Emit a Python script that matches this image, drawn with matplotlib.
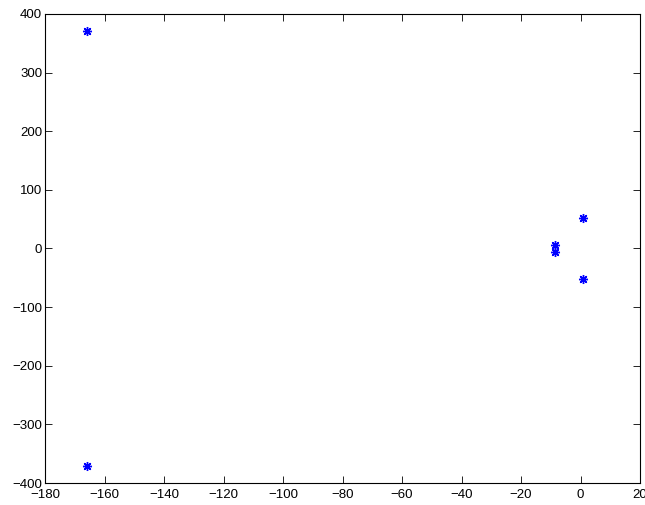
import matplotlib.pyplot as plt
import numpy as np

plt.rcParams['font.family'] = ['Liberation Sans', 'DejaVu Sans']

# Pole locations (real, imaginary)
re_part = [-165.8, -165.8, -8.5, -8.5, 0.8, 0.8]
im_part = [371, -371, 6, -6, 52.5, -52.5]

fig = plt.figure(figsize=(6.45, 5.05), dpi=100)
ax = fig.add_axes([45/645, 1 - 483/505, 595/645, 469/505])

# matlab-style '*' = eight-armed asterisk
ax.plot(re_part, im_part, linestyle='none', marker=(8, 2, 0), color='blue',
        markersize=6.5, markeredgewidth=1.0)

ax.set_xlim(-180, 20)
ax.set_ylim(-400, 400)
ax.set_xticks(np.arange(-180, 21, 20))
ax.set_yticks(np.arange(-400, 401, 100))
ax.tick_params(direction='in', length=5, labelsize=9.5, top=True, right=True,
               width=0.6, pad=2)
ax.tick_params(axis='x', pad=4)
for s in ax.spines.values():
    s.set_linewidth(0.8)

fig.savefig('out.png', dpi=100)
